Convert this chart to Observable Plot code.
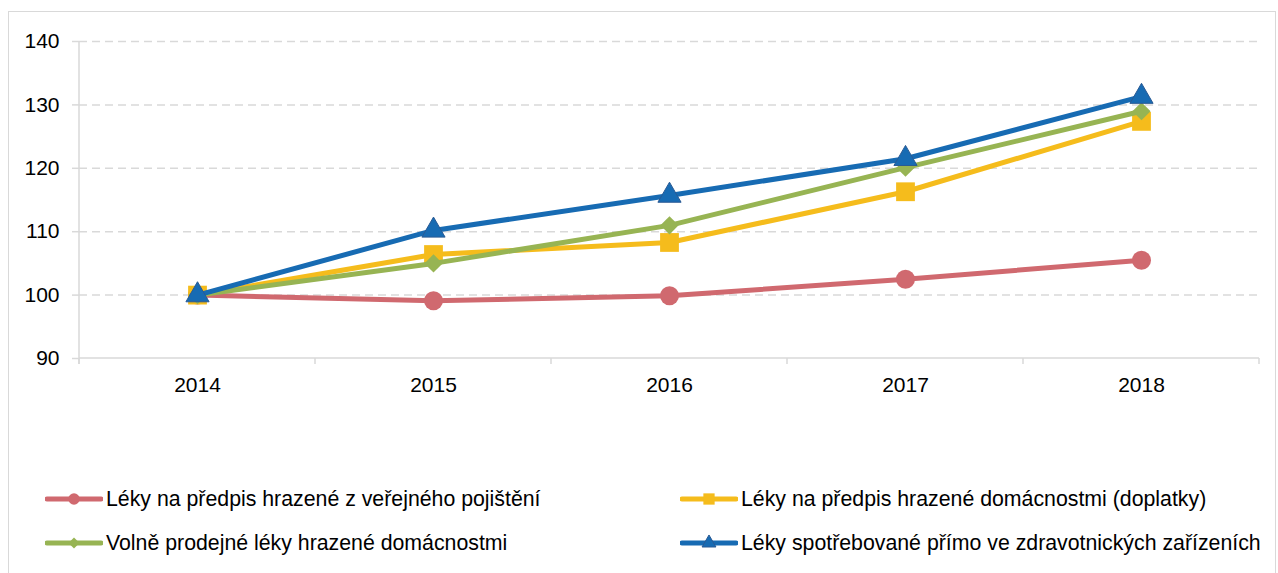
<!DOCTYPE html>
<html>
<head>
<meta charset="utf-8">
<script src="https://cdn.jsdelivr.net/npm/d3@7"></script>
<script src="https://cdn.jsdelivr.net/npm/@observablehq/plot@0.6"></script>
<style>
  html, body { margin: 0; padding: 0; background: #fff; }
  #wrap { position: relative; width: 1278px; height: 573px; overflow: hidden; font-family: "Liberation Sans", Arial, sans-serif; }
  #border { position: absolute; left: 8px; top: 11px; width: 1268px; height: 620px; border: 1px solid #d9d9d9; box-sizing: border-box; }
  #chart { position: absolute; left: 0; top: 0; }
  .leg { position: absolute; display: flex; align-items: center; font-size: 21.3px; color: #000; white-space: nowrap; }
  .leg svg { display: block; margin-right: 3px; }
</style>
</head>
<body>
<div id="wrap">
  <div id="border"></div>
  <div id="chart"></div>
  <div id="legend"></div>
</div>
<script>
const years = ["2014", "2015", "2016", "2017", "2018"];
const yTicks = [90, 100, 110, 120, 130, 140];

const seriesNames = [
  "Léky na předpis hrazené z veřejného pojištění",
  "Léky na předpis hrazené domácnostmi (doplatky)",
  "Volně prodejné léky hrazené domácnostmi",
  "Léky spotřebované přímo ve zdravotnických zařízeních"
];
const verejnePojisteni = [100, 99.1, 99.9, 102.5, 105.5];
const doplatky = [100, 106.4, 108.3, 116.3, 127.4];
const volneProdejne = [100, 105.0, 111.0, 120.1, 129.0];
const zdravotnickaZarizeni = [100, 110.2, 115.7, 121.5, 131.3];

const seriesValues = [verejnePojisteni, doplatky, volneProdejne, zdravotnickaZarizeni];
const colors = ["#d0696f", "#f5bc1c", "#97b453", "#176bb3"];
const symbols = ["circle", "square", "diamond2", "triangle"];
const radii = [9.5, 10.6, 8.2, 8.6];
const symStroke = ["none", "none", "none", "#2a5a94"];

const rows = [];
seriesValues.forEach((vals, s) => vals.forEach((v, i) => rows.push({series: seriesNames[s], year: years[i], value: v, s})));

function frameMark(index, scales, values, dimensions) {
  const x = scales.x, y = scales.y;
  const step = x(years[1]) - x(years[0]);
  const left = dimensions.marginLeft;
  const right = dimensions.width - dimensions.marginRight;
  const bottom = y(yTicks[0]);
  const top = y(yTicks[yTicks.length - 1]);
  const g = d3.create("svg:g").attr("stroke", "#d9d9d9").attr("stroke-width", 1.5);
  g.append("line").attr("x1", left).attr("x2", left).attr("y1", top).attr("y2", bottom + 6);
  g.append("line").attr("x1", left).attr("x2", right).attr("y1", bottom).attr("y2", bottom);
  for (let i = 0; i <= years.length; i++) {
    const bx = x(years[0]) - step / 2 + i * step;
    g.append("line").attr("x1", bx).attr("x2", bx).attr("y1", bottom).attr("y2", bottom + 6);
  }
  return g.node();
}

const marks = [
  Plot.gridY(yTicks.slice(1), {stroke: "#d9d9d9", strokeOpacity: 1, strokeWidth: 1.5, strokeDasharray: "8,5"}),
  Plot.axisY(yTicks, {tickSize: 7, tickPadding: 13, stroke: "#d9d9d9", strokeOpacity: 1, strokeWidth: 1.5, fontSize: 21, fill: "#000", label: null}),
  Plot.axisX({tickSize: 0, tickPadding: 19, fontSize: 21, fill: "#000", label: null}),
  frameMark
];
seriesNames.forEach((name, s) => {
  const d = rows.filter(r => r.s === s);
  marks.push(Plot.line(d, {x: "year", y: "value", stroke: colors[s], strokeWidth: 5, strokeLinejoin: "round"}));
  marks.push(Plot.dot(d, {x: "year", y: "value", symbol: symbols[s], r: radii[s], fill: colors[s], stroke: symStroke[s], strokeWidth: 1}));
});

const chart = Plot.plot({
  width: 1278,
  height: 400,
  marginLeft: 79,
  marginRight: 19,
  marginTop: 41,
  marginBottom: 42,
  style: {fontFamily: "'Liberation Sans', Arial, sans-serif", fontSize: "21px", background: "transparent", color: "#000"},
  x: {type: "point", domain: years, padding: 0.5, axis: null},
  y: {domain: [90, 140], axis: null},
  marks
});
document.getElementById("chart").appendChild(chart);

// Legend
const legendPos = [
  {left: 45, top: 499},
  {left: 680, top: 499},
  {left: 45, top: 543},
  {left: 680, top: 543}
];
const legend = document.getElementById("legend");
seriesNames.forEach((name, s) => {
  const item = document.createElement("div");
  item.className = "leg";
  item.style.left = legendPos[s].left + "px";
  item.style.top = (legendPos[s].top - 15) + "px";
  item.style.height = "30px";
  const sw = d3.create("svg").attr("width", 58).attr("height", 24);
  sw.append("line").attr("x1", 2).attr("x2", 56).attr("y1", 12).attr("y2", 12)
    .attr("stroke", colors[s]).attr("stroke-width", 5).attr("stroke-linecap", "round");
  const symMap = {circle: d3.symbolCircle, square: d3.symbolSquare, diamond2: d3.symbolDiamond2, triangle: d3.symbolTriangle};
  sw.append("path").attr("transform", "translate(29,12)")
    .attr("d", d3.symbol(symMap[symbols[s]], Math.PI * (radii[s] * 0.6) ** 2)())
    .attr("fill", colors[s]).attr("stroke", symStroke[s]);
  item.appendChild(sw.node());
  const t = document.createElement("span");
  t.textContent = name;
  item.appendChild(t);
  legend.appendChild(item);
});
</script>
</body>
</html>
